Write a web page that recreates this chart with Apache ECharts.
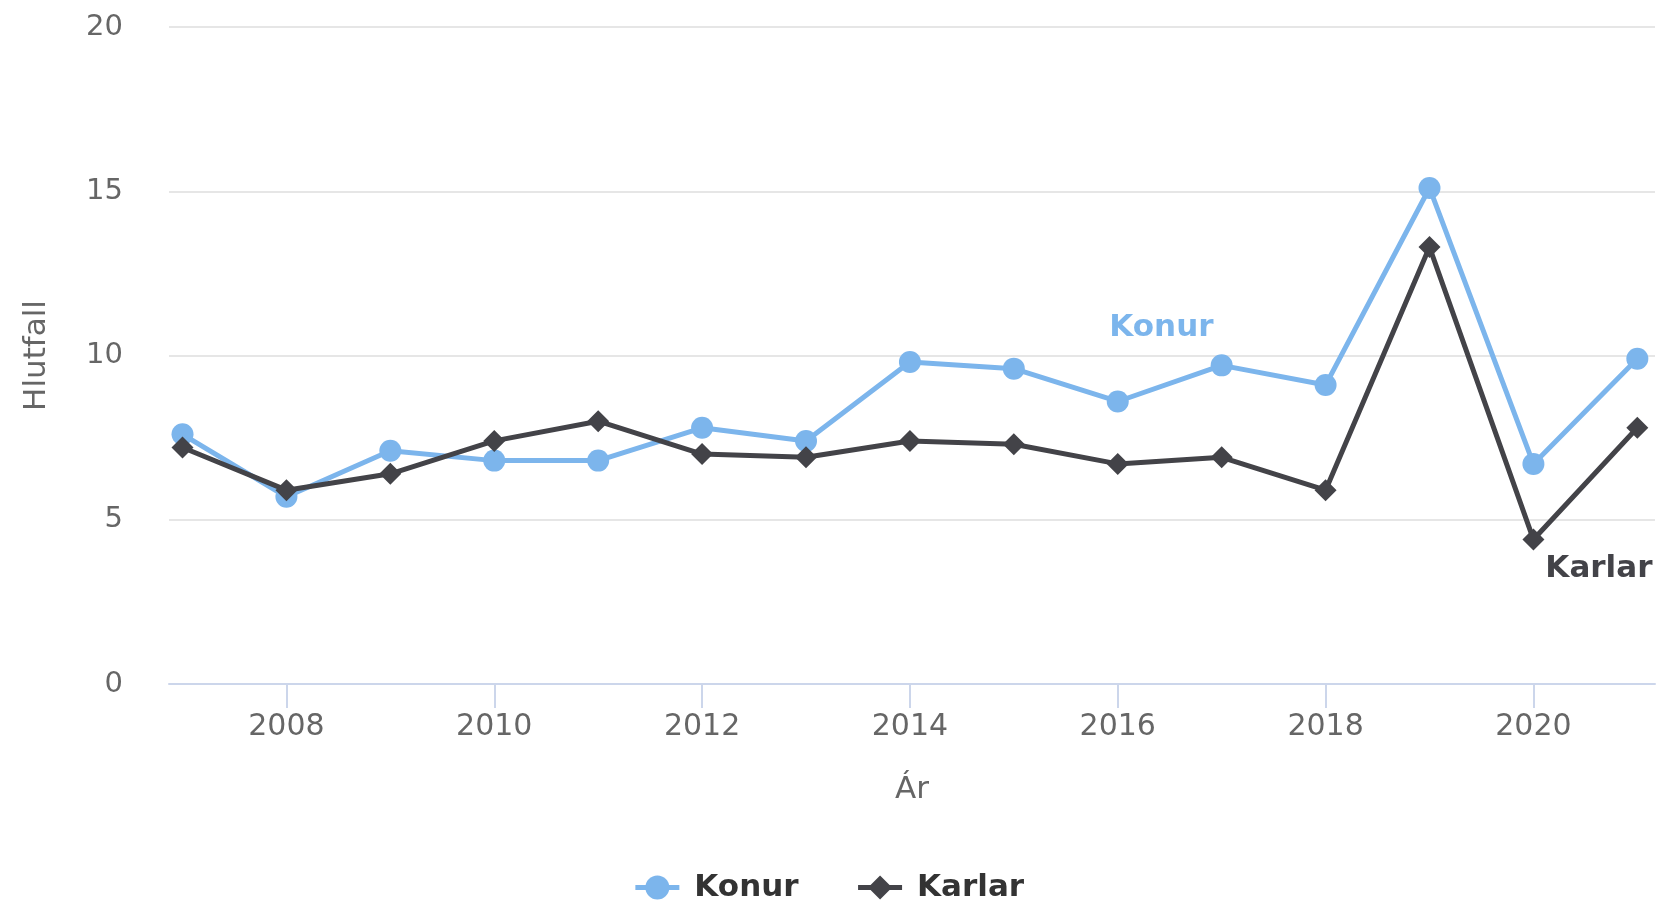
<!DOCTYPE html>
<html>
<head>
<meta charset="utf-8">
<script src="https://cdn.jsdelivr.net/npm/echarts@6/dist/echarts.min.js"></script>
<style>
  html, body { margin: 0; padding: 0; background: #fff; }
  #chart { width: 1657px; height: 901px; }
</style>
</head>
<body>
<div id="chart"></div>
<script>
const years = [2007, 2008, 2009, 2010, 2011, 2012, 2013, 2014, 2015, 2016, 2017, 2018, 2019, 2020, 2021];
const konur = [7.6, 5.7, 7.1, 6.8, 6.8, 7.8, 7.4, 9.8, 9.6, 8.6, 9.7, 9.1, 15.1, 6.7, 9.9];
const karlar = [7.2, 5.9, 6.4, 7.4, 8.0, 7.0, 6.9, 7.4, 7.3, 6.7, 6.9, 5.9, 13.3, 4.4, 7.8];
const xTicks = [2008, 2010, 2012, 2014, 2016, 2018, 2020];
const yTicks = [0, 5, 10, 15, 20];
const seriesNames = ['Konur', 'Karlar'];
const xTitle = 'Ár';
const yTitle = 'Hlutfall';

const FONT = '"DejaVu Sans", sans-serif';
const BLUE = '#7cb5ec';
const DARK = '#434348';

const chart = echarts.init(document.getElementById('chart'), null, { renderer: 'canvas' });
chart.setOption({
  animation: false,
  backgroundColor: '#ffffff',
  textStyle: { fontFamily: FONT },
  grid: { left: 169, right: 2, top: 27, bottom: 217, containLabel: false },
  legend: {
    top: 867,
    left: 'center',
    itemWidth: 44,
    itemHeight: 30,
    itemGap: 57,
    lineStyle: { width: 5 },
    textStyle: { fontFamily: FONT, fontSize: 31, fontWeight: 'bold', color: '#333333', padding: [0, 0, 0, 10] },
    data: seriesNames
  },
  xAxis: {
    type: 'value',
    min: 2006.87,
    max: 2021.17,
    name: xTitle,
    nameLocation: 'middle',
    nameGap: 90,
    nameTextStyle: { fontFamily: FONT, fontSize: 31, color: '#666666' },
    axisLine: { show: true, lineStyle: { color: '#ccd6eb', width: 2 } },
    axisTick: { show: true, customValues: xTicks, length: 24, lineStyle: { color: '#ccd6eb', width: 2 } },
    axisLabel: {
      customValues: xTicks,
      margin: 28,
      fontFamily: FONT, fontSize: 30, color: '#666666',
      formatter: v => String(v)
    },
    splitLine: { show: false }
  },
  yAxis: {
    type: 'value',
    min: 0,
    max: 20,
    interval: 5,
    name: yTitle,
    nameLocation: 'middle',
    nameGap: 117,
    nameRotate: 90,
    nameTextStyle: { fontFamily: FONT, fontSize: 31, color: '#666666' },
    axisLine: { show: false },
    axisTick: { show: false },
    axisLabel: { margin: 46, fontFamily: FONT, fontSize: 29, color: '#666666' },
    splitLine: { show: true, lineStyle: { color: '#e6e6e6', width: 2 } }
  },
  series: [
    {
      name: seriesNames[0],
      type: 'line',
      data: years.map((y, i) => [y, konur[i]]),
      symbol: 'circle',
      symbolSize: 22,
      itemStyle: { color: BLUE },
      lineStyle: { color: BLUE, width: 5 },
      z: 2,
      markPoint: {
        symbol: 'circle',
        symbolSize: 0,
        silent: true,
        data: [{ coord: [2016.42, 10.84], value: seriesNames[0] }],
        label: {
          show: true, position: 'inside', formatter: seriesNames[0],
          fontFamily: FONT, fontSize: 31, fontWeight: 'bold', color: BLUE
        }
      }
    },
    {
      name: seriesNames[1],
      type: 'line',
      data: years.map((y, i) => [y, karlar[i]]),
      symbol: 'diamond',
      symbolSize: 22,
      itemStyle: { color: DARK },
      lineStyle: { color: DARK, width: 5 },
      z: 3,
      markPoint: {
        symbol: 'circle',
        symbolSize: 0,
        silent: true,
        data: [{ coord: [2020.63, 3.49], value: seriesNames[1] }],
        label: {
          show: true, position: 'inside', formatter: seriesNames[1],
          fontFamily: FONT, fontSize: 31, fontWeight: 'bold', color: DARK
        }
      }
    }
  ]
});
</script>
</body>
</html>
